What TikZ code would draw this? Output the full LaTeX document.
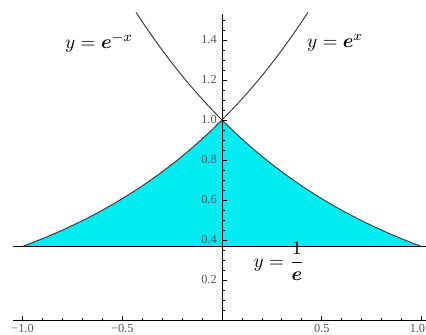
\documentclass[tikz,border=0pt]{standalone}
\usepackage{fontspec}
\setmainfont{Liberation Serif}
\usepackage{bm}
\usetikzlibrary{positioning}
\definecolor{region}{HTML}{00ECF2}
\definecolor{curve}{HTML}{3C3C3C}
\definecolor{ticktext}{HTML}{555555}

\begin{document}
\begin{tikzpicture}[
    x=3.99cm, y=4cm,
    every node/.style={font=\scriptsize},
    axis/.style={draw=black, line width=0.5pt},
    graph/.style={draw=curve, line width=0.55pt, smooth},
    level/.style={draw=black, line width=0.6pt},
    ticmark/.style={draw=black, line width=0.45pt},
    ylabel/.style={text=ticktext, anchor=east, inner sep=0pt},
    xlabel/.style={text=ticktext, anchor=north, inner sep=0pt},
    formula/.style={font=\fontsize{11}{13}\selectfont, inner sep=1pt}
]
\useasboundingbox (-1.1128,-0.075) rectangle (1.0226,1.6);

\fill[region] (-1,{exp(-1)})
    -- plot[domain=-1:0, samples=40] (\x,{exp(\x)})
    -- plot[domain=0:1, samples=40] (\x,{exp(-\x)}) -- cycle;

\coordinate (xl) at (-1.05,0);
\coordinate (xr) at (1.0226,0);
\coordinate (yb) at (0,0);
\coordinate (yt) at (0,1.53);
\coordinate (hl) at (-1.05,{exp(-1)});
\coordinate (hr) at (1.0226,{exp(-1)});

\draw[level] (hl) -- (hr);
\draw[axis] (xl) -- (xr);
\draw[axis] (yb) -- (yt);

\draw[graph] plot[domain=-1:0.431, samples=60] (\x,{exp(\x)});
\draw[graph] plot[domain=-0.431:1, samples=60] (\x,{exp(-\x)});

\foreach \t in {-1,-0.9,...,1.05}
    \draw[ticmark] (\t,0) -- (\t,0.011);
\foreach \t in {-1,-0.5,0.5,1}
    \draw[ticmark] (\t,0) -- (\t,0.022);
\foreach \t in {0.05,0.1,...,1.52}
    \draw[ticmark] (0,\t) -- (0.014,\t);
\foreach \t in {0.2,0.4,0.6,0.8,1.0,1.2,1.4}
    \draw[ticmark] (0,\t) -- (0.026,\t);

\foreach \v [count=\i] in {0.2,0.4,0.6,0.8,1.0,1.2,1.4}
    \node[ylabel] (ylab\i) at (-0.025,\v) {\v};
\foreach \v/\s [count=\i] in {-1/{−1.0},-0.5/{−0.5},0.5/{0.5}}
    \node[xlabel] (xlab\i) at (\v,-0.018) {\s};
\node[xlabel, anchor=north east] (xlab4) at (1.02,-0.018) {1.0};

\node[formula] (fneg) at (-0.617,1.385) {$y=\bm{e}^{-x}$};
\node[formula] (fpos) at (0.566,1.385) {$y=\bm{e}^{x}$};
\node[formula] (finv) at (0.286,0.295) {$y=\displaystyle\frac{1}{\bm{e}}$};

\end{tikzpicture}
\end{document}
